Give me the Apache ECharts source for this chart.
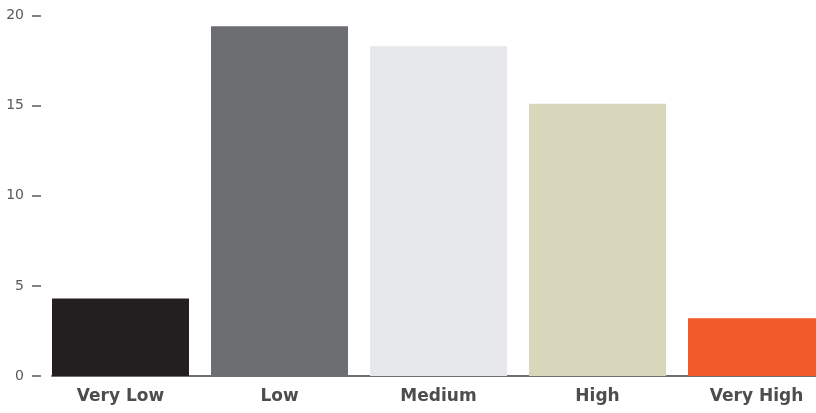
<!DOCTYPE html>
<html>
<head>
<meta charset="utf-8">
<style>
  html, body { margin: 0; padding: 0; background: #ffffff; overflow: hidden; width: 816px; height: 413px; }
  /* the plot is a little wider than the page, so the last bar runs off the right edge */
  #chart { width: 836px; height: 413px; }
</style>
<script src="https://cdn.jsdelivr.net/npm/echarts@6/dist/echarts.min.js"></script>
</head>
<body>
<div id="chart"></div>
<script>
// Rating buckets and their counts
const categories = ['Very Low', 'Low', 'Medium', 'High', 'Very High'];
const counts = [4.3, 19.4, 18.3, 15.1, 3.2];
const barColors = ['#231f20', '#6d6e71', '#e6e7e8', '#d8d7bc', '#f15a29'];
const yTicks = { min: 0, max: 20, interval: 5 };

const chart = echarts.init(document.getElementById('chart'), null, { renderer: 'canvas' });

chart.setOption({
  animation: false,
  backgroundColor: '#ffffff',
  grid: [
    { left: 41, top: 15.5, bottom: 37, right: 0, containLabel: false },
    // second grid only carries the baseline, which starts at the first bar
    { left: 52, top: 15.5, bottom: 37, right: 0, containLabel: false }
  ],
  xAxis: [
    {
      type: 'category',
      gridIndex: 0,
      data: categories,
      axisLine: { show: false },
      axisTick: { show: false },
      axisLabel: {
        margin: 12,
        fontFamily: 'DejaVu Sans',
        fontWeight: 'bold',
        fontSize: 17,
        color: '#4d4d4f'
      }
    },
    {
      type: 'category',
      gridIndex: 1,
      data: [''],
      axisLine: { show: true, lineStyle: { color: '#6d6e71', width: 2 } },
      axisTick: { show: false },
      axisLabel: { show: false }
    }
  ],
  yAxis: [
    {
      type: 'value',
      gridIndex: 0,
      min: yTicks.min,
      max: yTicks.max,
      interval: yTicks.interval,
      splitLine: { show: false },
      axisLine: { show: false },
      axisTick: { show: true, length: 9, lineStyle: { color: '#58595b', width: 1.5 } },
      axisLabel: {
        margin: 17,
        fontFamily: 'DejaVu Sans',
        fontSize: 14,
        color: '#58595b'
      }
    },
    {
      type: 'value',
      gridIndex: 1,
      min: yTicks.min,
      max: yTicks.max,
      show: false
    }
  ],
  series: [
    {
      type: 'bar',
      xAxisIndex: 0,
      yAxisIndex: 0,
      barWidth: 137,
      data: counts.map((v, i) => ({ value: v, itemStyle: { color: barColors[i] } }))
    }
  ]
});
</script>
</body>
</html>
